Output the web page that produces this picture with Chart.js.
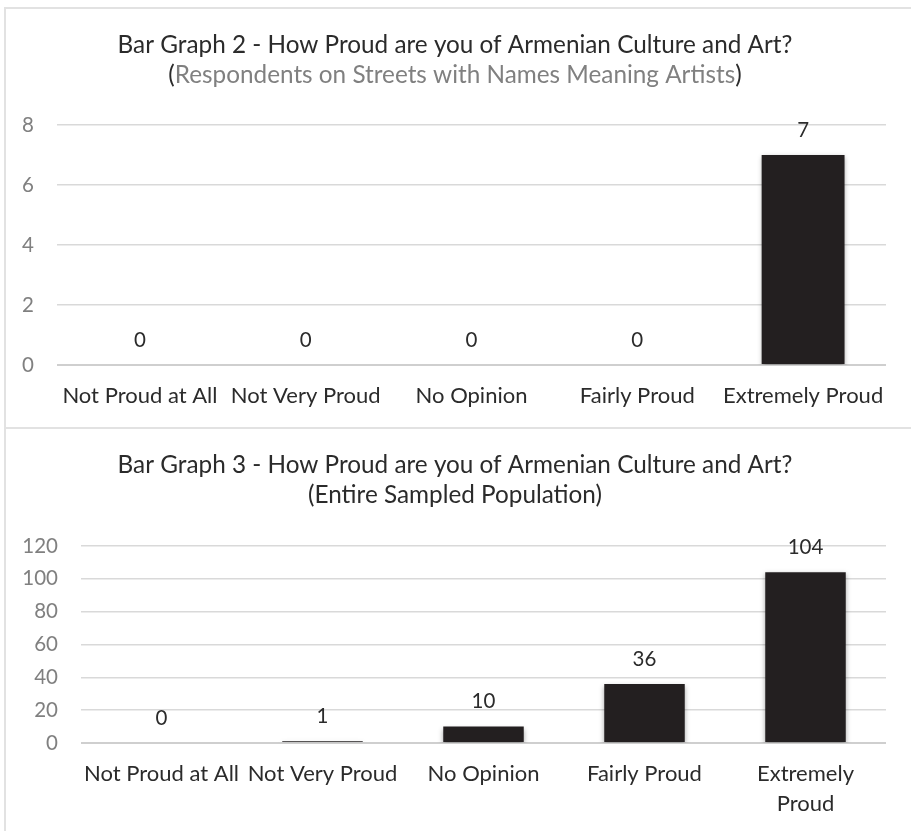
<!DOCTYPE html>
<html><head><meta charset="utf-8">
<script src="https://cdn.jsdelivr.net/npm/chart.js@4.4.0/dist/chart.umd.min.js"></script>
<style>
html,body{margin:0;padding:0;background:#fff;width:911px;height:831px;overflow:hidden;}
.frame{position:absolute;left:4px;width:907px;border-left:2px solid #e2e2e2;border-top:2px solid #e2e2e2;}
#f1{top:7px;height:418px;}
#f2{top:427px;height:402px;}
canvas{display:block;}
</style></head><body>
<div class="frame" id="f1"><canvas id="c1" width="905" height="418"></canvas></div>
<div class="frame" id="f2"><canvas id="c2" width="905" height="402"></canvas></div>
<script>
// ---- data ----
const categories1 = ['Not Proud at All', 'Not Very Proud', 'No Opinion', 'Fairly Proud', 'Extremely Proud'];
const categories2 = ['Not Proud at All', 'Not Very Proud', 'No Opinion', 'Fairly Proud', ['Extremely', 'Proud']];
const values1 = [0, 0, 0, 0, 7];
const values2 = [0, 1, 10, 36, 104];
const yMax1 = 8, yStep1 = 2;
const yMax2 = 120, yStep2 = 20;
const title1 = 'Bar Graph 2 - How Proud are you of Armenian Culture and Art?';
const subtitle1 = 'Respondents on Streets with Names Meaning Artists';
const title2 = 'Bar Graph 3 - How Proud are you of Armenian Culture and Art?';
const subtitle2 = 'Entire Sampled Population';

// ---- style ----
const FONT = 'Lato';
const DARK = '#2b2b2b';
const GRAY = '#808080';
const GRID = '#d9d9d9';
const BAR = '#231f20';

const titlePlugin = {
  id: 'mixedTitle',
  afterDraw(chart, args, opts) {
    const ctx = chart.ctx;
    ctx.save();
    ctx.textBaseline = 'middle';
    ctx.textAlign = 'left';
    ctx.font = opts.size + 'px ' + FONT;
    opts.lines.forEach(line => {
      let total = 0;
      line.parts.forEach(p => total += ctx.measureText(p.text).width);
      let x = opts.cx - total / 2;
      line.parts.forEach(p => {
        ctx.fillStyle = p.color;
        ctx.fillText(p.text, x, line.y);
        x += ctx.measureText(p.text).width;
      });
    });
    ctx.restore();
  }
};

const valueLabelPlugin = {
  id: 'valueLabels',
  afterDatasetsDraw(chart, args, opts) {
    const ctx = chart.ctx;
    ctx.save();
    ctx.font = opts.size + 'px ' + FONT;
    ctx.fillStyle = DARK;
    ctx.textAlign = 'center';
    ctx.textBaseline = 'middle';
    const meta = chart.getDatasetMeta(0);
    const data = chart.data.datasets[0].data;
    meta.data.forEach((bar, i) => {
      ctx.fillText(String(data[i]), bar.x, bar.y - opts.offset);
    });
    ctx.restore();
  }
};

const shadowPlugin = {
  id: 'barShadow',
  beforeDatasetsDraw(chart) {
    const ctx = chart.ctx;
    ctx.save();
    ctx.shadowColor = 'rgba(0,0,0,0.35)';
    ctx.shadowBlur = 5;
    ctx.shadowOffsetX = 0;
    ctx.shadowOffsetY = 2;
  },
  afterDatasetsDraw(chart) {
    chart.ctx.restore();
  }
};

function makeChart(id, labels, values, yMax, yStep, title, subtitle, cfg) {
  return new Chart(document.getElementById(id), {
    type: 'bar',
    data: {
      labels: labels,
      datasets: [{ data: values, backgroundColor: BAR, borderWidth: 0,
                   categoryPercentage: 1.0, barPercentage: 0.5 }]
    },
    options: {
      responsive: false,
      animation: false,
      layout: { padding: { top: cfg.top, right: 25, left: 0, bottom: 0 } },
      plugins: {
        legend: { display: false },
        tooltip: { enabled: false },
        title: { display: false },
        mixedTitle: {
          cx: 449, size: 24.3,
          lines: [
            { y: 36, parts: [{ text: title, color: DARK }] },
            { y: 66, parts: cfg.subParts(subtitle) }
          ]
        },
        valueLabels: { size: 20.5, offset: 25 }
      },
      scales: {
        x: {
          grid: { display: false, drawTicks: false },
          border: { display: false },
          ticks: { color: DARK, font: { family: FONT, size: 22, lineHeight: 1.36 }, padding: 16,
                   maxRotation: 0, autoSkip: false },
          afterFit(scale) { scale.height = cfg.xh; }
        },
        y: {
          min: 0, max: yMax,
          grid: { color: (c) => c.tick && c.tick.value === 0 ? '#cfcfcf' : GRID,
                  lineWidth: (c) => c.tick && c.tick.value === 0 ? 2 : 1.5,
                  drawTicks: false },
          border: { display: false },
          ticks: { stepSize: yStep, color: GRAY, font: { family: FONT, size: 20.5 }, padding: 23 },
          afterFit(scale) { scale.width = cfg.yw; }
        }
      }
    },
    plugins: [titlePlugin, shadowPlugin, valueLabelPlugin]
  });
}

makeChart('c1', categories1, values1, yMax1, yStep1, title1, subtitle1, {
  top: 116, xh: 62, yw: 51,
  subParts: (s) => [{ text: '(', color: DARK }, { text: s, color: GRAY }, { text: ')', color: DARK }]
});
makeChart('c2', categories2, values2, yMax2, yStep2, title2, subtitle2, {
  top: 117, xh: 88, yw: 75,
  subParts: (s) => [{ text: '(' + s + ')', color: DARK }]
});
</script>
</body></html>
